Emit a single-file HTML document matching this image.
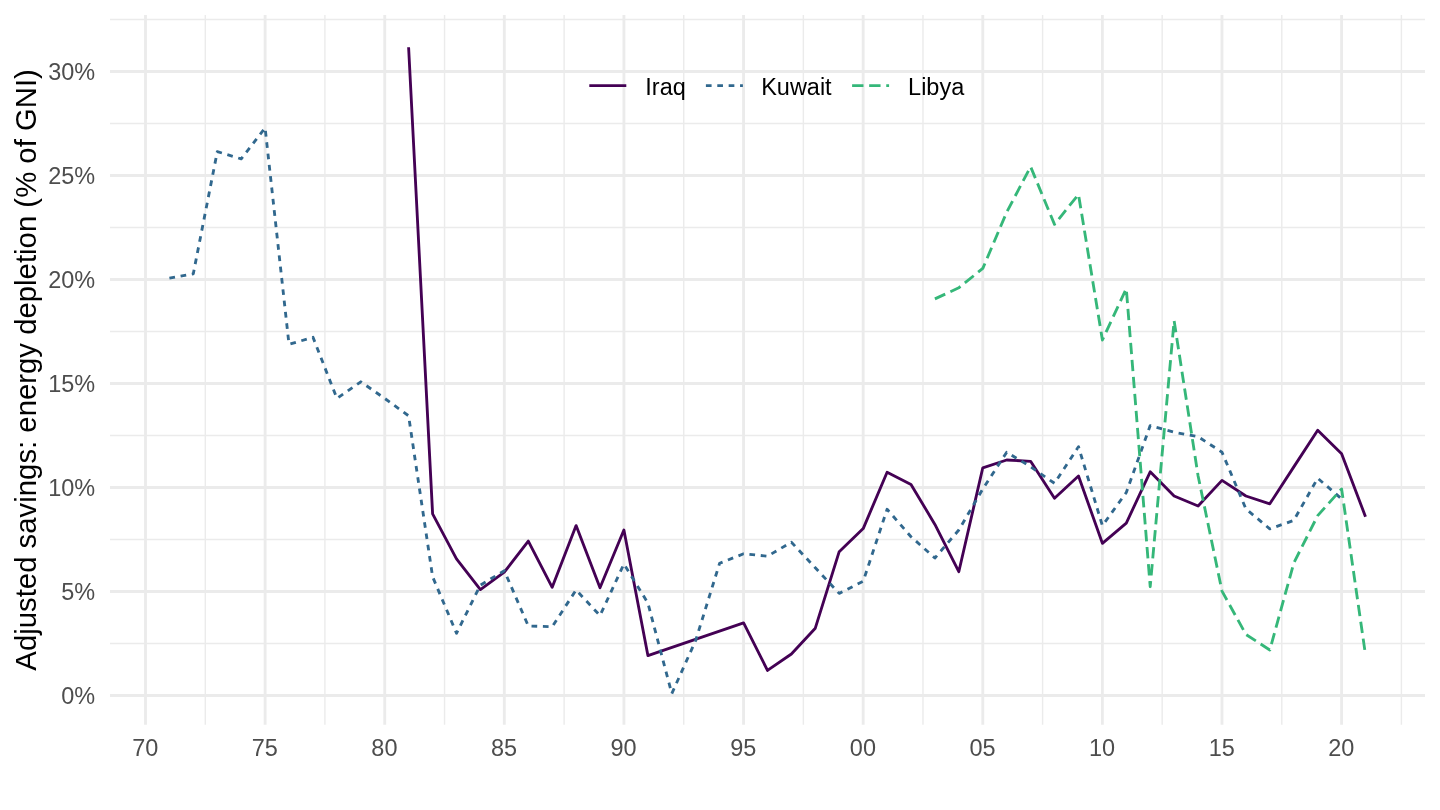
<!DOCTYPE html>
<html lang="en">
<head>
<meta charset="utf-8">
<title>Adjusted savings: energy depletion (% of GNI)</title>
<style>
html,body{margin:0;padding:0;background:#ffffff;}
body{width:1440px;height:810px;overflow:hidden;font-family:"Liberation Sans",Arial,Helvetica,sans-serif;}
svg{display:block;will-change:transform;}
</style>
</head>
<body>
<svg width="1440" height="810" viewBox="0 0 1440 810">
<rect width="1440" height="810" fill="#ffffff"/>
<g stroke="#ebebeb" stroke-width="1.42" fill="none">
<line x1="110.0" x2="1425.0" y1="643.50" y2="643.50"/>
<line x1="110.0" x2="1425.0" y1="539.50" y2="539.50"/>
<line x1="110.0" x2="1425.0" y1="435.50" y2="435.50"/>
<line x1="110.0" x2="1425.0" y1="331.50" y2="331.50"/>
<line x1="110.0" x2="1425.0" y1="227.50" y2="227.50"/>
<line x1="110.0" x2="1425.0" y1="123.50" y2="123.50"/>
<line x1="110.0" x2="1425.0" y1="19.50" y2="19.50"/>
<line y1="15.0" y2="724.8" x1="205.31" x2="205.31"/>
<line y1="15.0" y2="724.8" x1="324.91" x2="324.91"/>
<line y1="15.0" y2="724.8" x1="444.53" x2="444.53"/>
<line y1="15.0" y2="724.8" x1="564.13" x2="564.13"/>
<line y1="15.0" y2="724.8" x1="683.75" x2="683.75"/>
<line y1="15.0" y2="724.8" x1="803.36" x2="803.36"/>
<line y1="15.0" y2="724.8" x1="922.97" x2="922.97"/>
<line y1="15.0" y2="724.8" x1="1042.58" x2="1042.58"/>
<line y1="15.0" y2="724.8" x1="1162.18" x2="1162.18"/>
<line y1="15.0" y2="724.8" x1="1281.80" x2="1281.80"/>
<line y1="15.0" y2="724.8" x1="1401.40" x2="1401.40"/>
</g>
<g stroke="#ebebeb" stroke-width="2.845" fill="none">
<line x1="110.0" x2="1425.0" y1="695.50" y2="695.50"/>
<line x1="110.0" x2="1425.0" y1="591.50" y2="591.50"/>
<line x1="110.0" x2="1425.0" y1="487.50" y2="487.50"/>
<line x1="110.0" x2="1425.0" y1="383.50" y2="383.50"/>
<line x1="110.0" x2="1425.0" y1="279.50" y2="279.50"/>
<line x1="110.0" x2="1425.0" y1="175.50" y2="175.50"/>
<line x1="110.0" x2="1425.0" y1="71.50" y2="71.50"/>
<line y1="15.0" y2="724.8" x1="145.50" x2="145.50"/>
<line y1="15.0" y2="724.8" x1="265.11" x2="265.11"/>
<line y1="15.0" y2="724.8" x1="384.72" x2="384.72"/>
<line y1="15.0" y2="724.8" x1="504.33" x2="504.33"/>
<line y1="15.0" y2="724.8" x1="623.94" x2="623.94"/>
<line y1="15.0" y2="724.8" x1="743.55" x2="743.55"/>
<line y1="15.0" y2="724.8" x1="863.16" x2="863.16"/>
<line y1="15.0" y2="724.8" x1="982.77" x2="982.77"/>
<line y1="15.0" y2="724.8" x1="1102.38" x2="1102.38"/>
<line y1="15.0" y2="724.8" x1="1221.99" x2="1221.99"/>
<line y1="15.0" y2="724.8" x1="1341.60" x2="1341.60"/>
</g>
<g fill="none" stroke-width="2.845" stroke-linejoin="round" stroke-linecap="butt">
<polyline stroke="#440154" points="408.6,47.3 432.6,513.8 456.5,558.9 480.4,589.6 504.3,572.2 528.3,541.1 552.2,587.3 576.1,525.6 600.0,587.8 623.9,530.0 647.9,655.6 743.6,622.9 767.5,670.4 791.4,654.0 815.3,628.2 839.2,551.7 863.2,528.6 887.1,472.2 911.0,484.4 934.9,524.4 958.8,571.7 982.8,467.8 1006.7,460.0 1030.6,461.3 1054.5,498.2 1078.5,476.0 1102.4,543.3 1126.3,523.1 1150.2,471.8 1174.1,496.0 1198.1,506.0 1222.0,480.4 1245.9,496.0 1269.8,503.8 1293.8,466.9 1317.7,430.2 1341.6,453.8 1365.5,516.7"/>
<polyline stroke="#31688e" stroke-dasharray="5.69 5.69" points="169.4,278.2 193.3,273.8 217.3,151.6 241.2,158.9 265.1,127.8 289.0,344.4 313.0,337.3 336.9,398.4 360.8,381.8 384.7,398.4 408.6,415.8 432.6,576.7 456.5,633.3 480.4,585.1 504.3,570.7 528.3,626.0 552.2,626.7 576.1,590.0 600.0,615.6 623.9,564.0 647.9,603.0 671.8,693.6 695.7,640.4 719.6,563.3 743.6,553.8 767.5,556.2 791.4,542.2 815.3,567.8 839.2,593.4 863.2,581.3 887.1,509.3 911.0,536.7 934.9,558.0 958.8,530.0 982.8,488.9 1006.7,452.2 1030.6,466.7 1054.5,483.3 1078.5,446.7 1102.4,525.6 1126.3,492.5 1150.2,425.6 1174.1,432.2 1198.1,436.7 1222.0,452.2 1245.9,508.9 1269.8,528.9 1293.8,520.4 1317.7,478.2 1341.6,498.9"/>
<polyline stroke="#35b779" stroke-dasharray="11.38 5.69" points="934.9,298.9 958.8,287.8 982.8,268.4 1006.7,212.2 1030.6,166.7 1054.5,224.4 1078.5,194.4 1102.4,340.0 1126.3,288.6 1150.2,586.7 1174.1,320.7 1198.1,476.0 1222.0,591.1 1245.9,634.4 1269.8,650.0 1293.8,563.0 1317.7,515.6 1341.6,488.9 1365.5,654.9"/>
</g>
<g fill="none" stroke-width="2.845">
<line x1="589.3" x2="626.3" y1="85.55" y2="85.55" stroke="#440154"/>
<line x1="705.9" x2="742.9" y1="85.55" y2="85.55" stroke="#31688e" stroke-dasharray="5.69 5.69"/>
<line x1="852.1" x2="889.1" y1="85.55" y2="85.55" stroke="#35b779" stroke-dasharray="11.38 5.69"/>
</g>
<g font-family="Liberation Sans, Arial, Helvetica, sans-serif" font-size="23.47" fill="#000000">
<text x="645.3" y="95.3">Iraq</text>
<text x="761.2" y="95.3">Kuwait</text>
<text x="908.1" y="95.3">Libya</text>
</g>
<g font-family="Liberation Sans, Arial, Helvetica, sans-serif" font-size="23.47" fill="#4d4d4d" text-anchor="end">
<text x="95.2" y="704.2">0%</text>
<text x="95.2" y="600.2">5%</text>
<text x="95.2" y="496.2">10%</text>
<text x="95.2" y="392.2">15%</text>
<text x="95.2" y="288.2">20%</text>
<text x="95.2" y="184.2">25%</text>
<text x="95.2" y="80.2">30%</text>
</g>
<g font-family="Liberation Sans, Arial, Helvetica, sans-serif" font-size="23.47" fill="#4d4d4d" text-anchor="middle">
<text x="145.2" y="756">70</text>
<text x="264.8" y="756">75</text>
<text x="384.4" y="756">80</text>
<text x="504.0" y="756">85</text>
<text x="623.6" y="756">90</text>
<text x="743.3" y="756">95</text>
<text x="862.9" y="756">00</text>
<text x="982.5" y="756">05</text>
<text x="1102.1" y="756">10</text>
<text x="1221.7" y="756">15</text>
<text x="1341.3" y="756">20</text>
</g>
<text font-family="Liberation Sans, Arial, Helvetica, sans-serif" font-size="29.33" fill="#000000" text-anchor="middle" transform="translate(35.7,369.9) rotate(-90)">Adjusted savings: energy depletion (% of GNI)</text>
</svg>
</body>
</html>
